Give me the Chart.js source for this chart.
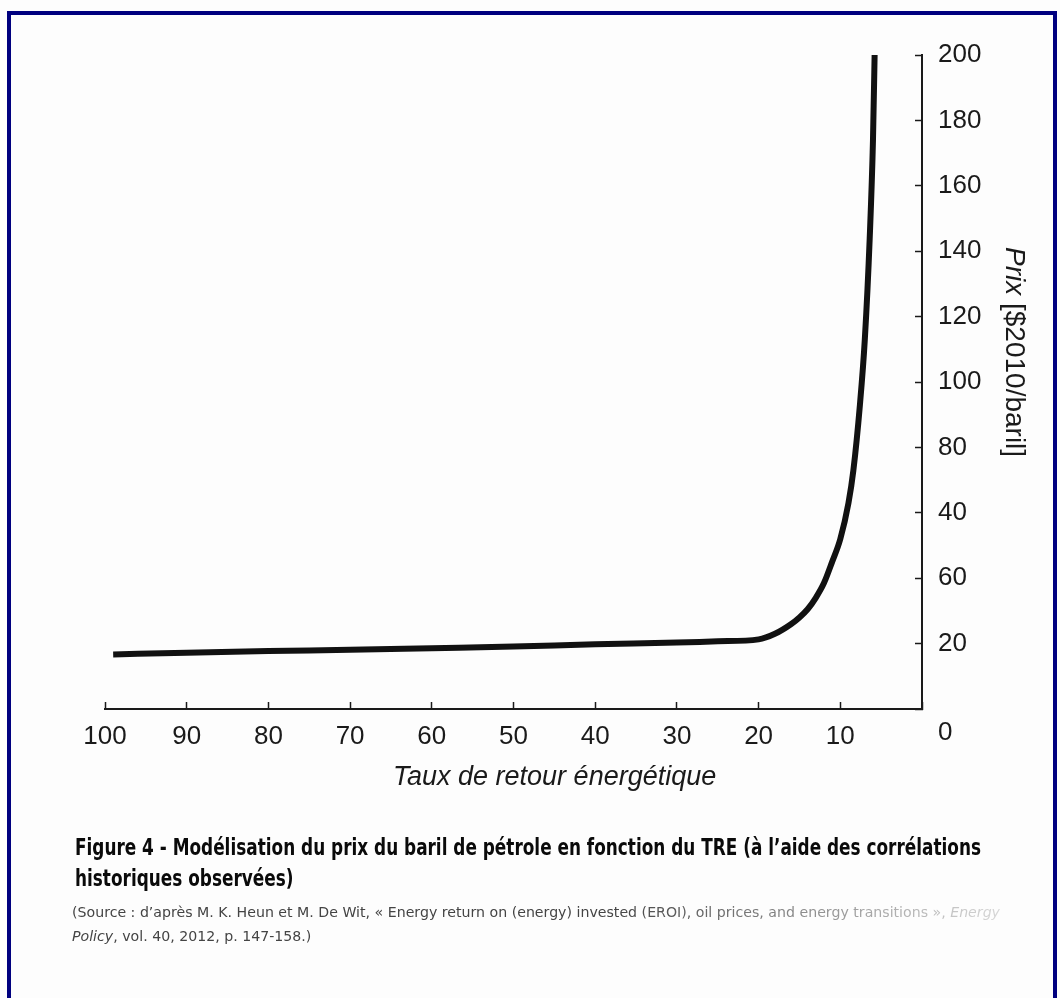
<!DOCTYPE html>
<html>
<head>
<meta charset="utf-8">
<script src="https://cdn.jsdelivr.net/npm/chart.js@4.4.1/dist/chart.umd.min.js"></script>
<style>
  html, body { margin: 0; padding: 0; }
  body {
    width: 1060px; height: 998px; overflow: hidden; position: relative;
    background: #fdfdfd; font-family: "Liberation Sans", Arial, sans-serif; color: #1a1a1a;
  }
  .frame {
    position: absolute; left: 7px; top: 11px; width: 1042px; height: 1010px;
    border: 4px solid #00007f; border-bottom: none;
  }
  #wrap { position: absolute; left: 0; top: 0; width: 1060px; height: 800px; }
  .xtitle {
    position: absolute; left: 393px; top: 761px; font-size: 27px; font-style: italic;
    white-space: nowrap;
  }
  .ytitle {
    position: absolute; left: 999px; top: 247px; font-size: 28px;
    writing-mode: vertical-rl; white-space: nowrap;
  }
  .caption {
    position: absolute; left: 75px; top: 832px;
    font-family: "DejaVu Sans", sans-serif;
    font-weight: bold; font-size: 23px; line-height: 31px; color: #0a0a0a;
  }
  .source {
    position: absolute; left: 72px; top: 900px;
    font-family: "DejaVu Sans", sans-serif;
    font-size: 14px; line-height: 24px; color: #444;
  }
  .caption span, .source span { display: block; white-space: nowrap; transform-origin: left top; width: max-content; }
  .source .l1 {
    -webkit-mask-image: linear-gradient(to right, #000 0%, #000 58%, rgba(0,0,0,0.2) 100%);
    mask-image: linear-gradient(to right, #000 0%, #000 58%, rgba(0,0,0,0.2) 100%);
  }
</style>
</head>
<body>
<div class="frame"></div>
<div id="wrap"><canvas id="chart" width="1060" height="800"></canvas></div>
<div class="xtitle">Taux de retour énergétique</div>
<div class="ytitle"><i>Prix</i> [$2010/baril]</div>
<div class="caption" data-fit="906"><span>Figure 4 - Modélisation du prix du baril de pétrole en fonction du TRE (à l’aide des corrélations</span><span>historiques observées)</span></div>
<div class="source" data-fit="928"><span class="l1">(Source : d’après M. K. Heun et M. De Wit, « Energy return on (energy) invested (EROI), oil prices, and energy transitions », <i>Energy</i></span><span><i>Policy</i>, vol. 40, 2012, p. 147-158.)</span></div>
<script>
// taux de retour energetique (x) vs prix du baril (y)
const eroi  = [5.8, 6.0, 6.4, 7.0, 7.6, 8.4, 9.0, 10, 11, 12, 13, 14, 15, 16, 18, 20, 25, 30, 40, 50, 60, 70, 80, 90, 99];
const price = [200, 174, 144, 113, 93, 73, 63, 52, 45, 38.5, 34, 30.5, 28, 26, 23, 21.3, 20.7, 20.3, 19.8, 19.1, 18.6, 18.1, 17.7, 17.2, 16.7];

const xTicks = [100, 90, 80, 70, 60, 50, 40, 30, 20, 10, 0];
const xTickLabels = ["100", "90", "80", "70", "60", "50", "40", "30", "20", "10", ""];
const yTicks = [0, 20, 40, 60, 80, 100, 120, 140, 160, 180, 200];
// labels exactly as printed (40 and 60 are swapped in the original)
const yTickLabels = ["0", "20", "60", "40", "80", "100", "120", "140", "160", "180", "200"];

const ink = "#1a1a1a";
const tickFont = { family: "'Liberation Sans', Arial, sans-serif", size: 26 };

new Chart(document.getElementById("chart"), {
  type: "line",
  data: {
    datasets: [
      {
        data: eroi.map((x, i) => ({ x, y: price[i] })),
        borderColor: "#111",
        borderWidth: 6,
        pointRadius: 0,
        fill: false,
        cubicInterpolationMode: "monotone",
      },
    ],
  },
  options: {
    responsive: false,
    animation: false,
    layout: { padding: { left: 105, top: 55, right: 58, bottom: 31 } },
    plugins: { legend: { display: false }, tooltip: { enabled: false } },
    scales: {
      x: {
        type: "linear",
        reverse: true,
        min: 0,
        max: 100,
        afterBuildTicks: (s) => { s.ticks = xTicks.map((v) => ({ value: v })); },
        afterFit: (s) => { s.height = 60; },
        grid: { drawOnChartArea: false, tickLength: -7, tickColor: ink, tickWidth: 1.5 },
        border: { color: ink, width: 2 },
        ticks: {
          color: ink, font: tickFont, padding: 19, autoSkip: false, maxRotation: 0,
          callback: (v) => xTickLabels[xTicks.indexOf(v)],
        },
      },
      y: {
        position: "right",
        min: 0,
        max: 200,
        afterBuildTicks: (s) => { s.ticks = yTicks.map((v) => ({ value: v })); },
        afterFit: (s) => { s.width = 80; },
        grid: { drawOnChartArea: false, tickLength: -7, tickColor: ink, tickWidth: 1.5 },
        border: { color: ink, width: 2 },
        ticks: {
          color: ink, font: { ...tickFont, lineHeight: 1.8 }, padding: 23, autoSkip: false,
          callback: (v) => {
            const i = yTicks.indexOf(v);
            // the 0 sits lower, level with the x labels
            return i === 0 ? ["", yTickLabels[0]] : yTickLabels[i];
          },
        },
      },
    },
  },
});

// squeeze the caption blocks to the condensed width of the print
document.querySelectorAll("[data-fit]").forEach((box) => {
  const lines = box.querySelectorAll("span");
  const k = +box.dataset.fit / lines[0].getBoundingClientRect().width;
  lines.forEach((l) => { l.style.transform = "scaleX(" + k + ")"; });
});
</script>
</body>
</html>
